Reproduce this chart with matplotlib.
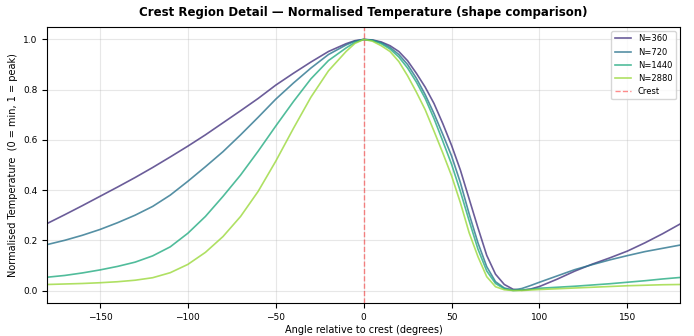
import numpy as np
import matplotlib
matplotlib.use('Agg')
import matplotlib.pyplot as plt

# angle relative to crest (degrees)
angle = [-180, -170, -160, -150, -140, -130, -120, -110, -100, -90, -80, -70, -60, -50,
         -40, -30, -20, -10, -5, 0, 5, 10, 15, 20, 25, 30, 35, 40, 45, 50, 55, 60, 65,
         70, 75, 80, 85, 90, 95, 100, 110, 120, 130, 140, 150, 160, 170, 180]

# normalised temperature per resolution
t_360 = [0.267, 0.302, 0.338, 0.375, 0.412, 0.45, 0.49, 0.532, 0.575, 0.62, 0.668, 0.716,
         0.765, 0.818, 0.865, 0.91, 0.952, 0.983, 0.995, 1.0, 0.998, 0.99, 0.975, 0.952,
         0.915, 0.865, 0.81, 0.745, 0.665, 0.578, 0.48, 0.365, 0.25, 0.14, 0.065, 0.024,
         0.005, 0.001, 0.006, 0.016, 0.045, 0.077, 0.105, 0.13, 0.157, 0.19, 0.226, 0.265]
t_720 = [0.183, 0.2, 0.22, 0.243, 0.27, 0.3, 0.335, 0.38, 0.435, 0.493, 0.553, 0.62,
         0.69, 0.762, 0.826, 0.886, 0.94, 0.978, 0.993, 1.0, 0.997, 0.987, 0.968, 0.94,
         0.9, 0.845, 0.78, 0.705, 0.622, 0.536, 0.43, 0.305, 0.19, 0.095, 0.035, 0.01,
         0.002, 0.008, 0.02, 0.033, 0.058, 0.083, 0.103, 0.122, 0.139, 0.155, 0.168, 0.181]
t_1440 = [0.053, 0.06, 0.07, 0.082, 0.096, 0.113, 0.138, 0.174, 0.228, 0.295, 0.375, 0.46,
          0.555, 0.655, 0.752, 0.843, 0.916, 0.966, 0.988, 1.0, 0.996, 0.983, 0.962, 0.93,
          0.886, 0.83, 0.765, 0.685, 0.595, 0.503, 0.395, 0.278, 0.165, 0.078, 0.028, 0.007,
          0.0, 0.002, 0.005, 0.009, 0.013, 0.017, 0.022, 0.027, 0.033, 0.039, 0.046, 0.052]
t_2880 = [0.024, 0.026, 0.028, 0.031, 0.035, 0.041, 0.051, 0.071, 0.104, 0.152, 0.215, 0.295,
          0.395, 0.515, 0.645, 0.77, 0.875, 0.952, 0.984, 1.0, 0.993, 0.975, 0.952, 0.912,
          0.855, 0.79, 0.72, 0.635, 0.548, 0.457, 0.35, 0.23, 0.135, 0.055, 0.015, 0.003,
          0.0, 0.0, 0.002, 0.004, 0.007, 0.01, 0.013, 0.016, 0.019, 0.021, 0.023, 0.024]

labels = ['N=360', 'N=720', 'N=1440', 'N=2880']
series = [t_360, t_720, t_1440, t_2880]
colors = plt.cm.viridis(np.linspace(0.15, 0.85, 4))

fig = plt.figure(figsize=(6.94, 3.36), dpi=100)
ax = fig.add_axes([0.068, 0.098, 0.912, 0.822])

for lab, vals, c in zip(labels, series, colors):
    ax.plot(angle, vals, color=c, lw=1.2, alpha=0.8, label=lab)

ax.axvline(0, color='red', ls='--', lw=1, alpha=0.45, label='Crest')

ax.set_xlim(-180, 180)
ax.set_xlabel('Angle relative to crest (degrees)', fontsize=7, labelpad=2)
ax.set_ylabel('Normalised Temperature  (0 = min, 1 = peak)', fontsize=7)
ax.set_title('Crest Region Detail \u2014 Normalised Temperature (shape comparison)',
             fontsize=8.5, fontweight='bold', pad=8)
ax.tick_params(labelsize=6.5)
ax.grid(True, alpha=0.3)
ax.legend(loc='upper right', fontsize=6)

fig.savefig('out.png', dpi=100)
